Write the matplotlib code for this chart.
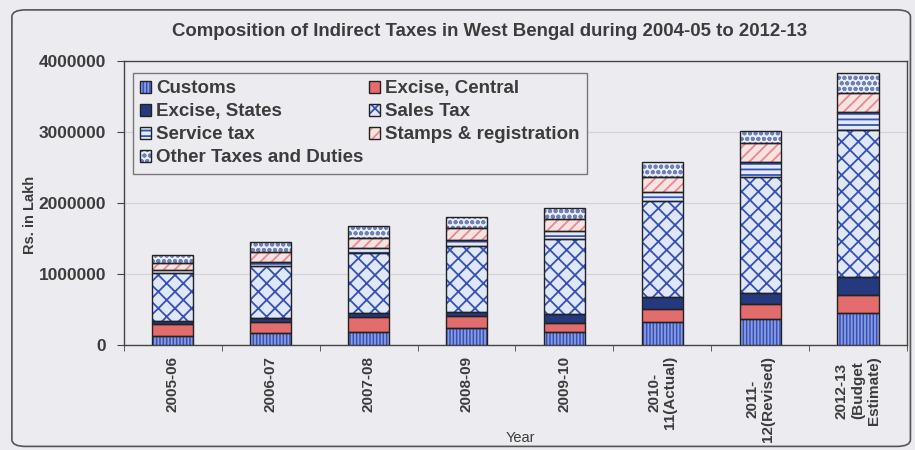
import matplotlib.pyplot as plt
import matplotlib.patches as mpatches
import numpy as np

years = ['2005-06', '2006-07', '2007-08', '2008-09', '2009-10',
         '2010-\n11(Actual)', '2011-\n12(Revised)', '2012-13\n(Budget\nEstimate)']

# Rs. in lakh
customs = [130000, 170000, 185000, 240000, 190000, 330000, 366000, 450000]
excise_central = [160000, 155000, 210000, 170000, 120000, 180000, 207000, 255000]
excise_states = [45000, 55000, 56000, 60000, 120000, 160000, 155000, 258000]
sales_tax = [680000, 735000, 840000, 925000, 1065000, 1352000, 1643000, 2070000]
service_tax = [45000, 55000, 70000, 85000, 107000, 140000, 211000, 250000]
stamps = [90000, 140000, 140000, 165000, 175000, 211000, 258000, 268000]
other_taxes = [120000, 140000, 170000, 160000, 155000, 211000, 174000, 280000]

series = [
    ('Customs', customs, '#3650b4', '#8a9ce4', '|||||'),
    ('Excise, Central', excise_central, '#e36c6c', '#e36c6c', ''),
    ('Excise, States', excise_states, '#25397f', '#25397f', ''),
    ('Sales Tax', sales_tax, '#dfe7f9', '#3552b8', 'xx'),
    ('Service tax', service_tax, '#e2e9f9', '#3552b8', '---'),
    ('Stamps & registration', stamps, '#f9e2e2', '#ea8a8a', '///'),
    ('Other Taxes and Duties', other_taxes, '#e8eef9', '#7080b8', 'ooo'),
]

BG = '#ececf0'
TXT = '#3c3c3c'
plt.rcParams['font.family'] = ['Liberation Sans', 'DejaVu Sans']
plt.rcParams['font.weight'] = 'bold'
plt.rcParams['hatch.linewidth'] = 1.3

fig = plt.figure(figsize=(9.15, 4.5), dpi=100)
fig.patch.set_facecolor(BG)
ax = fig.add_axes([0.1355, 0.2333, 0.8557, 0.6311])
ax.set_facecolor(BG)

# rounded frame around the whole chart
frame = mpatches.FancyBboxPatch((0.013, 0.008), 0.982, 0.97,
                                boxstyle='round,pad=0,rounding_size=0.015',
                                transform=fig.transFigure, fill=False,
                                edgecolor='#555555', linewidth=1.2)
fig.patches.append(frame)

x = np.arange(len(years))
width = 0.42
bottom = np.zeros(len(years))
handles = {}
for name, vals, face, hcol, hatch in series:
    vals = np.array(vals, dtype=float)
    ax.bar(x, vals, width, bottom=bottom, color=face, hatch=hatch,
           edgecolor=hcol, linewidth=0, zorder=3)
    ax.bar(x, vals, width, bottom=bottom, fill=False, edgecolor='#222222',
           linewidth=1.0, zorder=4)
    # hatched square with a dark outline on top, for the legend
    handles[name] = (mpatches.Patch(facecolor=face, hatch=hatch, edgecolor=hcol,
                                    linewidth=0),
                     mpatches.Patch(fill=False, edgecolor='#222222', linewidth=1.0))
    bottom += vals

ax.set_xlim(-0.5, len(years) - 0.5)
ax.set_ylim(0, 4000000)
ax.set_yticks([0, 1000000, 2000000, 3000000, 4000000])
ax.set_yticklabels(['0', '1000000', '2000000', '3000000', '4000000'])
ax.yaxis.grid(True, color='#d2d2d8', linewidth=0.8, zorder=0)
ax.set_axisbelow(True)

ax.set_xticks(x)
ax.set_xticklabels(years, rotation=90, ha='center', va='top',
                   multialignment='center')
ax.set_xticks(np.arange(len(years) + 1) - 0.5, minor=True)
ax.tick_params(axis='x', which='major', length=0, pad=8, labelsize=11,
               labelcolor=TXT)
ax.tick_params(axis='x', which='minor', length=4, direction='out',
               color='#444444')
ax.tick_params(axis='y', length=5, direction='out', labelsize=12.5,
               labelcolor=TXT, color='#444444', pad=8)
for s in ax.spines.values():
    s.set_color('#444444')
    s.set_linewidth(1.0)

order = ['Customs', 'Excise, States', 'Service tax', 'Other Taxes and Duties',
         'Excise, Central', 'Sales Tax', 'Stamps & registration']
leg = ax.legend([handles[n] for n in order], order, ncol=2, loc='upper left',
                bbox_to_anchor=(0.011, 0.958), borderaxespad=0,
                fontsize=13.5, frameon=True, fancybox=False, edgecolor='#777777',
                facecolor=BG, framealpha=1, handlelength=0.6,
                handleheight=0.6, handletextpad=0.25, labelspacing=0.32,
                columnspacing=0.3, borderpad=0.4)
for t in leg.get_texts():
    t.set_color(TXT)
leg.set_zorder(5)

fig.text(490 / 915, 1 - 31 / 450,
         'Composition of Indirect Taxes in West Bengal during 2004-05 to 2012-13',
         ha='center', va='center', fontsize=13.4, color=TXT)
fig.text(520 / 915, 1 - 438 / 450, 'Year', ha='center', va='center',
         fontsize=10.5, color=TXT, fontweight='normal')
fig.text(30 / 915, 1 - 215 / 450, 'Rs. in Lakh', ha='center', va='center',
         rotation=90, fontsize=10.5, color=TXT)

fig.savefig('out.png', dpi=100, facecolor=BG)
